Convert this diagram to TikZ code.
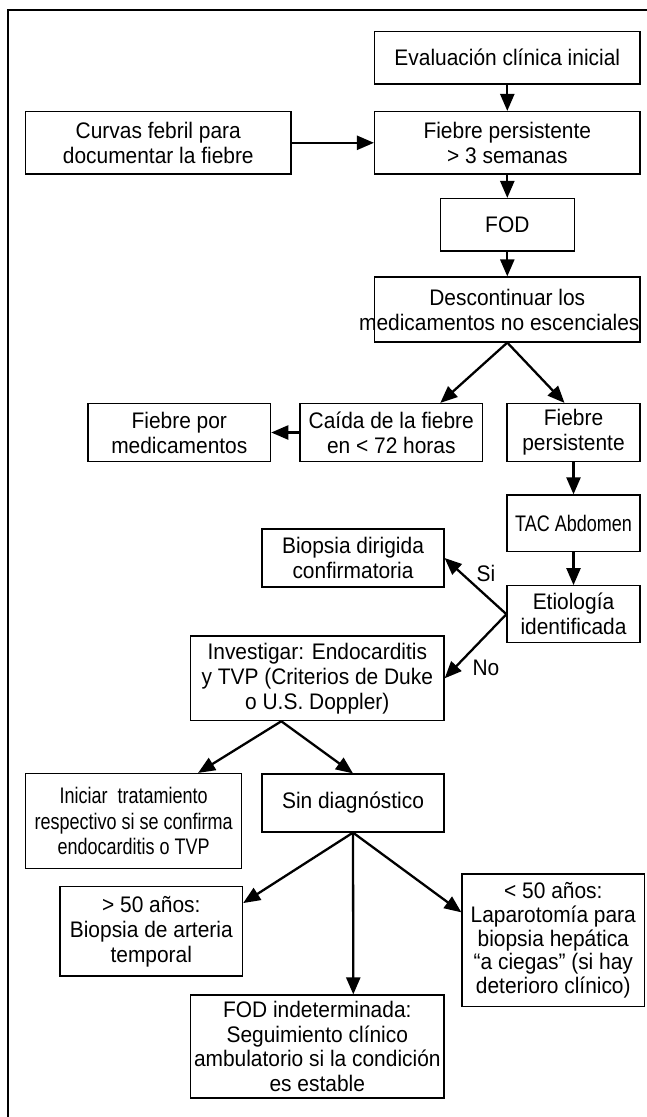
\documentclass[tikz,border=0pt]{standalone}
\usepackage{fontspec}
\setmainfont{Liberation Sans}[FakeStretch=0.93]
\newfontfamily\narrowfont[FakeStretch=0.8]{Liberation Sans}
\usetikzlibrary{arrows.meta}
\begin{document}
\begin{tikzpicture}[x=1pt,y=-1pt,>={Triangle[length=17pt,width=14pt]},
	box/.style={draw,line width=1.2pt,align=center,inner xsep=0pt,inner ysep=0pt,font=\fontsize{22.5}{25}\selectfont},
	flow/.style={->,line width=2.3pt},
	tag/.style={font=\fontsize{22.5}{25}\selectfont}]
		\useasboundingbox (0,0) rectangle (647,1117);
		\draw[line width=2.5pt] (647,10)--(8,10)--(8,1117);
		\node[box,minimum width=265.5pt,minimum height=52.5pt] (eval) at (507.3,57.8) {Evaluación clínica inicial};
		\node[box,minimum width=265.5pt,minimum height=62.5pt] (curvas) at (158.3,142.8) {Curvas febril para\\documentar la fiebre};
		\node[box,minimum width=265.5pt,minimum height=62.5pt] (fp3) at (507.3,142.8) {Fiebre persistente\\> 3 semanas};
		\node[box,minimum width=134pt,minimum height=52.5pt] (fod) at (507.3,224.8) {FOD};
		\node[box,minimum width=265.5pt,minimum height=65pt] (desc) at (507.3,309.5) {Descontinuar los\\\hspace*{-16pt}medicamentos no escenciales};
		\node[box,minimum width=182.7pt,minimum height=58pt] (fpmed) at (179.3,432.5) {Fiebre por\\medicamentos};
		\node[box,minimum width=182.6pt,minimum height=58pt] (caida) at (391.3,432.5) {Caída de la fiebre\\en < 72 horas};
		\node[box,minimum width=133pt,minimum height=58pt] (fp2) at (573.5,432.5) {Fiebre\\persistente};
		\node[box,minimum width=133pt,minimum height=56.7pt] (tac) at (573.5,523.3) {\narrowfont TAC Abdomen};
		\node[box,minimum width=182pt,minimum height=58pt] (biopsia) at (353,558) {Biopsia dirigida\\confirmatoria};
		\node[box,minimum width=133pt,minimum height=57pt] (etio) at (573.5,614.2) {Etiología\\identificada};
		\node[box,minimum width=253.5pt,minimum height=84.7pt] (invest) at (317.3,678.3) {Investigar: Endocarditis\\y TVP (Criterios de Duke\\o U.S. Doppler)};
		\node[box,minimum width=216pt,minimum height=95pt,font=\fontsize{22.5}{25.8}\narrowfont] (iniciar) at (133.6,821) {Iniciar\ \ tratamiento\\respectivo si se confirma\\endocarditis o TVP};
		\node[box,minimum width=182pt,minimum height=58pt] (sin) at (353,803) {Sin diagnóstico};
		\node[box,minimum width=182.6pt,minimum height=89.3pt] (mayor) at (151.3,931.3) {> 50 años:\\Biopsia de arteria\\temporal};
		\node[box,minimum width=182.6pt,minimum height=132.7pt,font=\fontsize{22.5}{23.7}\selectfont] (menor) at (553.3,940.3) {< 50 años:\\Laparotomía para\\biopsia hepática\\“a ciegas” (si hay\\deterioro clínico)};
		\node[box,minimum width=253.5pt,minimum height=103pt,font=\fontsize{22.5}{24.4}\selectfont] (fodind) at (317.3,1046.5) {FOD indeterminada:\\Seguimiento clínico\\ambulatorio si la condición\\es estable};
		\node[tag] (si) at (486,573) {Si};
		\node[tag] (no) at (486,668) {No};
		\foreach \a/\b in {eval/fp3,fp3/fod,fod/desc,fp2/tac,tac/etio}\draw[flow] (\a)--(\b);
		\draw[flow] (curvas)--(fp3);
		\draw[flow] (desc.south)--([xshift=49pt]caida.north);
		\draw[flow] (desc.south)--([xshift=-9pt]fp2.north);
		\draw[flow] (caida)--(fpmed);
		\draw[flow] (etio.west)--(biopsia.east);
		\draw[flow] (etio.west)--(invest.east);
		\draw[flow] ([xshift=-36pt]invest.south)--([xshift=64.5pt]iniciar.north);
		\draw[flow] ([xshift=-36pt]invest.south)--(sin.north);
		\draw[flow] (sin.south)--([yshift=-17pt]mayor.north east);
		\draw[flow] (sin.south)--([xshift=36pt]fodind.north);
		\draw[flow] (sin.south)--([yshift=-39pt]menor.north west);
\end{tikzpicture}
\end{document}
